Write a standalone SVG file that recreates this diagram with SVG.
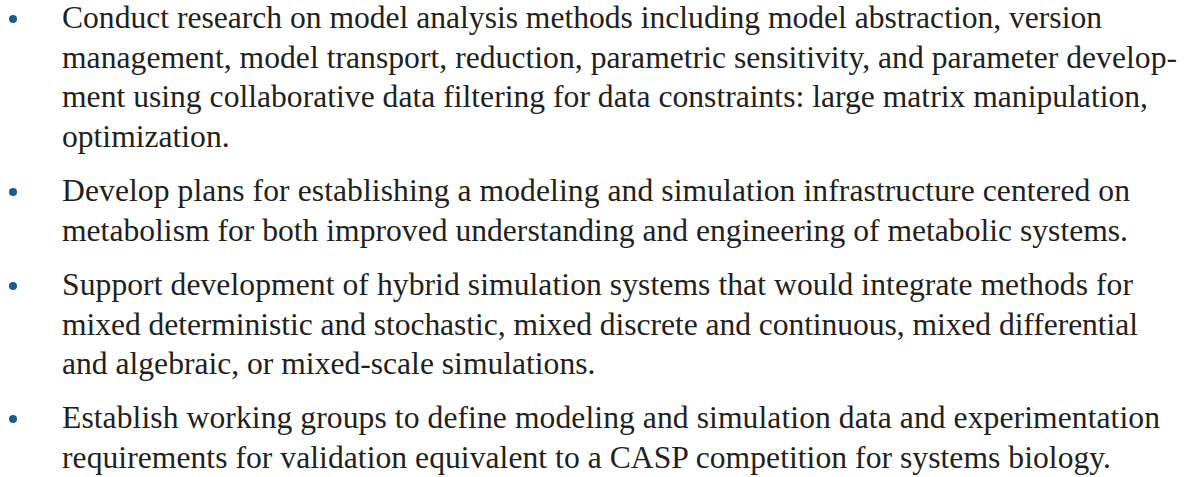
<svg xmlns="http://www.w3.org/2000/svg" width="1195" height="477" viewBox="0 0 1195 477">
<style>
.t{font-family:"Liberation Serif","Times New Roman",serif;font-size:31.6px;fill:#231f20;}
.b{fill:#1a5b94;}
</style>
<rect width="1195" height="477" fill="#ffffff"/>
<g id="item1">
<circle class="b" cx="13" cy="19" r="4"/>
<text class="t" x="62" y="28" textLength="1040" lengthAdjust="spacing">Conduct research on model analysis methods including model abstraction, version</text>
<text class="t" x="62" y="67.5" textLength="1115" lengthAdjust="spacing">management, model transport, reduction, parametric sensitivity, and parameter develop-</text>
<text class="t" x="62" y="107" textLength="1086" lengthAdjust="spacing">ment using collaborative data filtering for data constraints: large matrix manipulation,</text>
<text class="t" x="62" y="146.5">optimization.</text>
</g>
<g id="item2">
<circle class="b" cx="13" cy="192" r="4"/>
<text class="t" x="62" y="201" textLength="1068" lengthAdjust="spacing">Develop plans for establishing a modeling and simulation infrastructure centered on</text>
<text class="t" x="62" y="240.5" textLength="1066" lengthAdjust="spacing">metabolism for both improved understanding and engineering of metabolic systems.</text>
</g>
<g id="item3">
<circle class="b" cx="13" cy="286" r="4"/>
<text class="t" x="62" y="295" textLength="1071" lengthAdjust="spacing">Support development of hybrid simulation systems that would integrate methods for</text>
<text class="t" x="62" y="334.5" textLength="1076" lengthAdjust="spacing">mixed deterministic and stochastic, mixed discrete and continuous, mixed differential</text>
<text class="t" x="62" y="374">and algebraic, or mixed-scale simulations.</text>
</g>
<g id="item4">
<circle class="b" cx="13" cy="419" r="4"/>
<text class="t" x="62" y="428" textLength="1098" lengthAdjust="spacing">Establish working groups to define modeling and simulation data and experimentation</text>
<text class="t" x="62" y="467.5" textLength="1049" lengthAdjust="spacing">requirements for validation equivalent to a CASP competition for systems biology.</text>
</g>
</svg>
